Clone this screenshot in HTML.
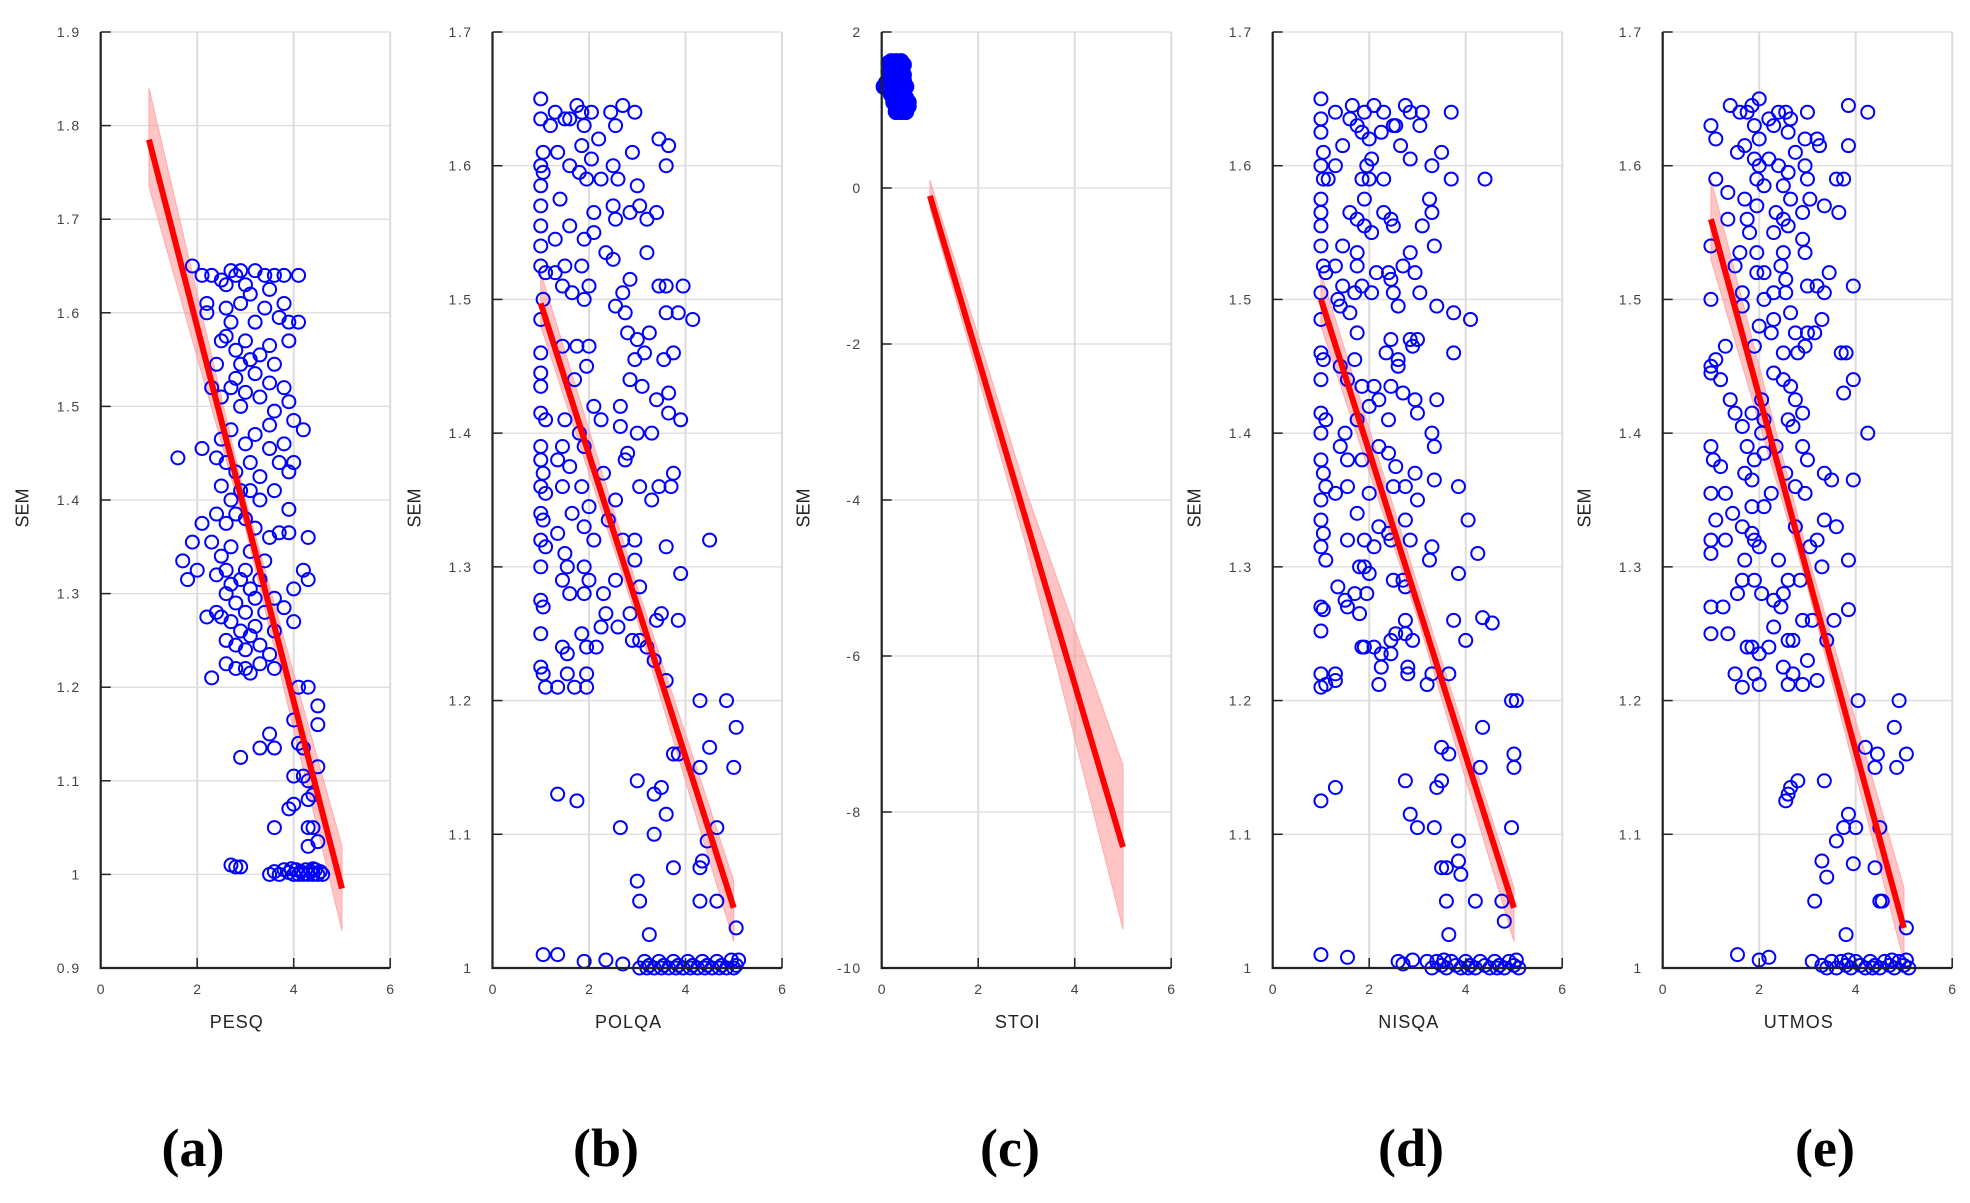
<!DOCTYPE html>
<html><head><meta charset="utf-8"><style>
html,body{margin:0;padding:0;background:#fff;}
svg{display:block;}
</style></head><body>
<svg id="chart" width="1970" height="1203" viewBox="0 0 1970 1203" xmlns="http://www.w3.org/2000/svg"></svg>
<script>
// ---- data ----
const panelNames = ["PESQ","POLQA","STOI","NISQA","UTMOS"];
const panelLetters = ["(a)","(b)","(c)","(d)","(e)"];
const yDomains = [[0.9,1.9],[1,1.7],[-10,2],[1,1.7],[1,1.7]];
const yTickLabels = [
 ["0.9","1","1.1","1.2","1.3","1.4","1.5","1.6","1.7","1.8","1.9"],
 ["1","1.1","1.2","1.3","1.4","1.5","1.6","1.7"],
 ["-10","-8","-6","-4","-2","0","2"],
 ["1","1.1","1.2","1.3","1.4","1.5","1.6","1.7"],
 ["1","1.1","1.2","1.3","1.4","1.5","1.6","1.7"]];
const xTickLabels = ["0","2","4","6"];
// regression fit endpoints [x1,y1,x2,y2]
const fitA = [1,1.785,5,0.985];
const fitB = [1,1.497,5,1.045];
const fitC = [1,-0.1,5,-8.45];
const fitD = [1,1.5,5,1.045];
const fitE = [1,1.56,5,1.03];
// confidence band [x, lower, upper]
const bandA = [[1,1.735,1.84],[3,1.37,1.40],[5,0.94,1.03]];
const bandB = [[1,1.48,1.52],[3,1.26,1.285],[5,1.02,1.065]];
const bandC = [[1,-0.25,0.1],[3,-4.6,-3.9],[5,-9.5,-7.4]];
const bandD = [[1,1.48,1.52],[3,1.262,1.287],[5,1.02,1.06]];
const bandE = [[1,1.53,1.59],[3,1.285,1.31],[5,1.005,1.06]];
// scatter points as flat x,y pairs
const ptsA = [1.9,1.65,2.1,1.64,2.3,1.64,2.5,1.635,2.7,1.645,2.8,1.64,2.9,1.645,3.0,1.63,3.2,1.645,3.4,1.64,3.6,1.64,3.8,1.64,4.1,1.64,2.6,1.63,3.5,1.625,3.1,1.62,2.2,1.61,2.6,1.605,2.9,1.61,3.4,1.605,3.8,1.61,2.2,1.6,2.7,1.59,3.2,1.59,3.7,1.595,4.1,1.59,3.9,1.59,2.6,1.575,3.0,1.57,2.5,1.57,3.5,1.565,3.9,1.57,2.8,1.56,3.3,1.555,3.1,1.55,2.9,1.545,3.6,1.545,2.4,1.545,2.8,1.53,3.2,1.535,3.5,1.525,3.8,1.52,2.3,1.52,2.7,1.52,3.0,1.515,2.5,1.51,3.3,1.51,3.9,1.505,2.9,1.5,3.6,1.495,4.0,1.485,4.2,1.475,3.5,1.48,2.7,1.475,3.2,1.47,3.8,1.46,2.5,1.465,3.0,1.46,3.5,1.455,2.1,1.455,1.6,1.445,2.4,1.445,2.6,1.44,3.1,1.44,3.7,1.44,4.0,1.44,3.9,1.43,2.8,1.43,3.3,1.425,2.5,1.415,2.9,1.41,3.1,1.41,3.6,1.41,2.7,1.4,3.3,1.4,3.9,1.39,2.4,1.385,2.8,1.385,3.0,1.38,2.1,1.375,2.6,1.375,3.2,1.37,3.7,1.365,3.5,1.36,3.9,1.365,4.3,1.36,1.9,1.355,2.3,1.355,2.7,1.35,3.1,1.345,2.5,1.34,3.4,1.335,1.7,1.335,2.0,1.325,2.6,1.325,3.0,1.325,4.2,1.325,2.4,1.32,2.9,1.315,3.3,1.315,1.8,1.315,2.7,1.31,4.3,1.315,3.1,1.305,4.0,1.305,2.6,1.3,3.2,1.295,2.8,1.29,3.6,1.295,2.4,1.28,3.0,1.28,3.4,1.28,3.8,1.285,2.2,1.275,2.5,1.275,2.7,1.27,3.2,1.265,4.0,1.27,2.9,1.26,3.1,1.255,3.6,1.26,2.6,1.25,2.8,1.245,3.3,1.245,3.0,1.24,3.5,1.235,2.6,1.225,2.8,1.22,3.0,1.22,3.3,1.225,3.6,1.22,2.3,1.21,3.1,1.215,4.1,1.2,4.3,1.2,4.5,1.18,4.5,1.16,4.0,1.165,3.5,1.15,3.3,1.135,3.6,1.135,4.1,1.14,4.2,1.135,2.9,1.125,4.5,1.115,4.0,1.105,4.2,1.105,4.3,1.1,4.4,1.085,4.0,1.075,4.3,1.08,3.9,1.07,4.3,1.05,4.4,1.05,3.6,1.05,4.3,1.03,4.5,1.035,2.7,1.01,2.8,1.008,2.9,1.008,3.6,1.003,3.7,1.0,3.8,1.005,3.9,1.002,4.0,1.0,4.05,1.005,4.1,1.0,4.15,1.003,4.2,1.0,4.25,1.005,4.3,1.0,4.35,1.003,4.4,1.0,4.45,1.005,4.5,1.0,4.55,1.003,4.6,1.0,3.5,1.0,3.95,1.006,4.4,1.006];
const ptsB = [1.0,1.65,1.0,1.635,1.05,1.61,1.0,1.6,1.05,1.595,1.0,1.585,1.0,1.57,1.0,1.555,1.0,1.54,1.0,1.525,1.1,1.52,1.05,1.5,1.0,1.485,1.0,1.46,1.0,1.445,1.0,1.435,1.0,1.415,1.1,1.41,1.0,1.39,1.0,1.38,1.05,1.37,1.0,1.36,1.1,1.355,1.0,1.34,1.05,1.335,1.0,1.32,1.1,1.315,1.0,1.3,1.0,1.275,1.05,1.27,1.0,1.25,1.0,1.225,1.05,1.22,1.1,1.21,1.3,1.64,1.5,1.635,1.75,1.645,1.85,1.64,2.05,1.64,2.45,1.64,2.7,1.645,2.95,1.64,1.2,1.63,1.6,1.635,1.9,1.63,2.55,1.63,2.2,1.62,3.45,1.62,3.65,1.615,1.35,1.61,1.85,1.615,2.9,1.61,2.05,1.605,1.6,1.6,2.5,1.6,3.6,1.6,1.8,1.595,1.95,1.59,2.25,1.59,2.6,1.59,3.0,1.585,1.4,1.575,2.5,1.57,3.05,1.57,3.4,1.565,2.1,1.565,2.85,1.565,2.55,1.56,3.2,1.56,1.6,1.555,1.3,1.545,1.9,1.545,2.1,1.55,1.5,1.525,2.35,1.535,2.5,1.53,3.2,1.535,1.85,1.525,1.3,1.52,1.45,1.51,2.0,1.51,2.85,1.515,1.65,1.505,1.9,1.5,2.7,1.505,3.45,1.51,3.6,1.51,3.95,1.51,2.55,1.495,2.75,1.49,3.6,1.49,3.85,1.49,4.15,1.485,2.8,1.475,3.0,1.47,3.25,1.475,1.45,1.465,1.75,1.465,2.0,1.465,3.15,1.46,2.95,1.455,3.55,1.455,3.75,1.46,1.95,1.45,1.7,1.44,2.85,1.44,3.1,1.435,2.1,1.42,2.65,1.42,3.4,1.425,3.65,1.43,1.5,1.41,2.25,1.41,3.65,1.415,3.9,1.41,1.8,1.4,2.65,1.405,3.0,1.4,3.3,1.4,1.45,1.39,1.9,1.39,2.8,1.385,1.35,1.38,1.6,1.375,2.3,1.37,2.75,1.38,3.75,1.37,1.45,1.36,1.85,1.36,3.05,1.36,3.45,1.36,3.7,1.36,2.0,1.345,2.55,1.35,3.3,1.35,1.65,1.34,1.9,1.33,2.4,1.335,1.35,1.325,2.1,1.32,2.7,1.32,2.95,1.32,3.6,1.315,1.5,1.31,2.95,1.305,4.5,1.32,1.55,1.3,1.9,1.3,2.0,1.29,2.55,1.29,3.9,1.295,1.45,1.29,1.6,1.28,1.9,1.28,2.3,1.28,3.05,1.285,2.35,1.265,2.85,1.265,3.5,1.265,3.4,1.26,3.85,1.26,2.6,1.255,2.25,1.255,1.85,1.25,2.9,1.245,3.05,1.245,2.15,1.24,1.95,1.24,1.45,1.24,1.55,1.235,3.2,1.24,3.35,1.23,1.55,1.22,1.95,1.22,1.35,1.21,1.7,1.21,1.95,1.21,3.6,1.215,4.3,1.2,4.85,1.2,5.05,1.18,3.75,1.16,4.5,1.165,3.85,1.16,4.3,1.15,5.0,1.15,3.0,1.14,3.5,1.135,1.35,1.13,3.35,1.13,1.75,1.125,3.6,1.115,2.65,1.105,3.35,1.1,4.65,1.105,4.45,1.095,4.35,1.08,4.3,1.075,3.75,1.075,3.0,1.065,3.05,1.05,4.3,1.05,4.65,1.05,5.05,1.03,3.25,1.025,1.05,1.01,1.35,1.01,1.9,1.005,2.35,1.006,2.7,1.003,3.05,1.0,3.15,1.005,3.25,1.002,3.35,1.0,3.45,1.005,3.55,1.002,3.65,1.0,3.75,1.005,3.85,1.002,3.95,1.0,4.05,1.005,4.15,1.002,4.25,1.0,4.35,1.005,4.45,1.002,4.55,1.0,4.65,1.005,4.75,1.002,4.85,1.0,4.95,1.006,5.05,1.002,3.2,1.0,3.5,1.0,3.8,1.0,4.1,1.0,4.4,1.0,4.7,1.0,5.0,1.0,5.1,1.006];
const ptsC = [0.1,1.35,0.15,1.6,0.2,1.62,0.25,1.6,0.3,1.62,0.35,1.6,0.4,1.62,0.45,1.58,0.2,1.5,0.3,1.5,0.4,1.5,0.15,1.4,0.25,1.4,0.35,1.42,0.45,1.38,0.5,1.3,0.05,1.3,0.2,1.3,0.3,1.25,0.4,1.25,0.2,1.2,0.3,1.15,0.4,1.15,0.5,1.15,0.25,1.1,0.35,1.05,0.45,1.05,0.55,1.05,0.3,0.98,0.4,0.98,0.5,0.98,0.55,1.1,0.45,1.2,0.35,1.3,0.15,1.5,0.45,1.45];
const ptsD = [1.0,1.65,1.0,1.635,1.0,1.625,1.05,1.61,1.0,1.6,1.05,1.59,1.0,1.575,1.0,1.565,1.0,1.555,1.0,1.54,1.05,1.525,1.1,1.52,1.0,1.505,1.0,1.485,1.0,1.46,1.05,1.455,1.0,1.44,1.0,1.415,1.1,1.41,1.0,1.4,1.0,1.38,1.05,1.37,1.0,1.35,1.1,1.36,1.0,1.335,1.05,1.325,1.0,1.315,1.1,1.305,1.0,1.27,1.05,1.268,1.0,1.252,1.0,1.22,1.0,1.21,1.1,1.212,1.3,1.64,1.6,1.635,1.65,1.645,1.9,1.64,2.1,1.645,2.3,1.64,2.75,1.645,2.85,1.64,3.1,1.64,3.7,1.64,1.45,1.615,1.75,1.63,1.85,1.625,2.0,1.62,2.25,1.625,2.5,1.63,2.55,1.63,2.65,1.615,3.05,1.63,3.5,1.61,1.3,1.6,1.95,1.6,2.05,1.605,2.85,1.605,3.3,1.6,1.15,1.59,1.85,1.59,2.0,1.59,2.3,1.59,3.7,1.59,4.4,1.59,1.9,1.575,3.25,1.575,3.3,1.565,1.6,1.565,1.75,1.56,2.3,1.565,2.45,1.56,1.9,1.555,2.05,1.55,2.5,1.555,3.1,1.555,1.45,1.54,1.75,1.535,2.85,1.535,3.35,1.54,1.3,1.525,1.75,1.525,2.4,1.52,2.7,1.525,2.95,1.52,1.45,1.51,1.85,1.51,2.15,1.52,2.45,1.515,1.35,1.50,1.7,1.505,2.05,1.505,2.5,1.505,3.05,1.505,3.4,1.495,3.75,1.49,4.1,1.485,1.4,1.495,1.6,1.49,2.6,1.495,1.75,1.475,2.45,1.47,2.85,1.47,3.0,1.47,2.35,1.46,2.6,1.455,2.9,1.465,3.75,1.46,1.4,1.45,1.7,1.455,2.6,1.45,1.55,1.44,1.85,1.435,2.1,1.435,2.45,1.435,2.7,1.43,2.95,1.425,3.4,1.425,2.0,1.42,3.0,1.415,2.2,1.425,2.4,1.41,1.5,1.40,1.75,1.41,3.3,1.40,1.4,1.39,2.2,1.39,2.4,1.385,3.35,1.39,1.55,1.38,1.85,1.38,2.55,1.375,2.95,1.37,3.35,1.365,3.85,1.36,1.55,1.36,2.0,1.355,2.5,1.36,2.75,1.36,3.0,1.35,1.3,1.355,1.75,1.34,2.2,1.33,2.4,1.325,2.75,1.335,4.05,1.335,1.55,1.32,1.9,1.32,2.1,1.315,2.45,1.32,2.85,1.32,3.3,1.315,3.25,1.305,4.25,1.31,1.8,1.30,1.9,1.30,2.0,1.295,3.85,1.295,2.5,1.29,2.7,1.29,2.75,1.285,1.35,1.285,1.7,1.28,1.95,1.28,1.5,1.275,1.55,1.27,1.8,1.265,2.75,1.26,2.75,1.25,3.75,1.26,4.35,1.262,4.55,1.258,2.55,1.25,2.9,1.245,2.45,1.245,1.85,1.24,1.9,1.24,4.0,1.245,2.1,1.24,2.25,1.235,2.45,1.235,2.25,1.225,2.8,1.225,1.3,1.22,2.8,1.22,3.3,1.22,3.65,1.22,1.3,1.215,2.2,1.212,3.2,1.212,4.95,1.2,5.05,1.2,4.35,1.18,3.5,1.165,3.65,1.16,5.0,1.16,4.3,1.15,5.0,1.15,2.75,1.14,3.5,1.14,3.4,1.135,1.3,1.135,1.0,1.125,2.85,1.115,3.0,1.105,3.35,1.105,4.95,1.105,3.85,1.095,3.5,1.075,3.6,1.075,3.85,1.08,3.9,1.07,3.6,1.05,4.2,1.05,4.75,1.05,4.8,1.035,3.65,1.025,1.0,1.01,1.55,1.008,2.6,1.005,2.7,1.003,2.9,1.006,3.2,1.005,3.3,1.0,3.4,1.005,3.5,1.002,3.6,1.0,3.7,1.005,3.8,1.002,3.9,1.0,4.0,1.005,4.1,1.002,4.2,1.0,4.3,1.005,4.4,1.002,4.5,1.0,4.6,1.005,4.7,1.002,4.8,1.0,4.9,1.005,5.0,1.002,5.1,1.0,3.55,1.006,4.05,1.0,4.65,1.0,5.05,1.006];
const ptsE = [1.0,1.63,1.1,1.62,1.4,1.645,1.6,1.64,1.75,1.64,1.85,1.645,2.0,1.65,1.9,1.63,2.2,1.635,2.3,1.63,2.4,1.64,2.55,1.64,2.65,1.635,3.0,1.64,3.85,1.645,4.25,1.64,1.55,1.61,1.7,1.615,2.0,1.62,2.6,1.625,2.75,1.61,2.95,1.62,3.2,1.62,3.25,1.615,3.85,1.615,1.9,1.605,2.0,1.60,2.2,1.605,2.4,1.60,2.6,1.595,2.95,1.60,1.95,1.59,2.1,1.585,2.5,1.585,3.0,1.59,3.6,1.59,3.75,1.59,1.1,1.59,1.35,1.58,1.7,1.575,1.95,1.57,2.65,1.575,3.05,1.575,3.35,1.57,3.65,1.565,2.9,1.565,2.35,1.565,2.5,1.56,1.35,1.56,1.75,1.56,1.8,1.55,2.3,1.55,2.6,1.555,2.9,1.545,1.0,1.54,1.6,1.535,1.95,1.535,2.5,1.535,2.95,1.535,1.5,1.525,1.95,1.52,2.1,1.52,2.45,1.525,2.55,1.515,3.0,1.51,3.2,1.51,3.45,1.52,2.3,1.505,2.55,1.505,3.35,1.505,3.95,1.51,1.0,1.50,1.65,1.505,2.1,1.50,2.65,1.49,1.65,1.495,2.0,1.48,2.3,1.485,3.3,1.485,1.9,1.465,2.25,1.475,2.75,1.475,3.0,1.475,3.15,1.475,1.3,1.465,1.1,1.455,2.5,1.46,2.8,1.46,2.95,1.465,3.7,1.46,3.8,1.46,1.0,1.45,1.2,1.44,2.3,1.445,2.5,1.44,2.65,1.435,1.0,1.445,3.95,1.44,1.4,1.425,2.05,1.425,2.75,1.425,3.75,1.43,1.5,1.415,1.85,1.415,2.1,1.41,2.6,1.41,2.9,1.415,1.65,1.405,2.05,1.40,2.7,1.405,4.25,1.40,1.0,1.39,1.75,1.39,2.35,1.39,2.9,1.39,1.05,1.38,1.2,1.375,1.9,1.38,2.1,1.385,3.0,1.38,1.7,1.37,1.85,1.365,2.55,1.37,3.35,1.37,3.5,1.365,3.95,1.365,1.0,1.355,1.3,1.355,2.25,1.355,2.75,1.36,2.95,1.355,1.45,1.34,1.85,1.345,2.1,1.345,1.1,1.335,3.35,1.335,3.6,1.33,1.65,1.33,1.85,1.325,2.75,1.33,1.0,1.32,1.3,1.32,1.9,1.32,2.0,1.315,3.2,1.32,3.05,1.315,1.0,1.31,1.7,1.305,2.4,1.305,3.3,1.30,3.85,1.305,1.9,1.29,2.6,1.29,2.85,1.29,1.65,1.29,2.05,1.28,1.55,1.28,2.5,1.28,2.3,1.275,2.45,1.27,1.0,1.27,1.25,1.27,3.85,1.268,2.9,1.26,3.1,1.26,3.55,1.26,1.0,1.25,1.35,1.25,2.3,1.255,2.6,1.245,2.7,1.245,3.4,1.245,1.75,1.24,1.85,1.24,2.0,1.235,2.2,1.24,3.0,1.23,2.5,1.225,2.7,1.22,1.5,1.22,1.9,1.22,3.2,1.215,1.65,1.21,2.0,1.212,2.6,1.212,2.9,1.212,4.05,1.2,4.9,1.2,4.8,1.18,4.2,1.165,5.05,1.16,4.45,1.16,4.4,1.15,4.85,1.15,2.8,1.14,3.35,1.14,2.65,1.135,2.6,1.13,2.55,1.125,3.85,1.115,3.75,1.105,4.0,1.105,4.5,1.105,3.6,1.095,3.3,1.08,3.95,1.078,4.4,1.075,3.4,1.068,4.5,1.05,4.55,1.05,3.15,1.05,5.05,1.03,3.8,1.025,1.55,1.01,2.0,1.006,2.2,1.008,3.1,1.005,3.3,1.002,3.4,1.0,3.5,1.005,3.6,1.0,3.7,1.005,3.8,1.002,3.9,1.0,4.0,1.005,4.1,1.002,4.2,1.0,4.3,1.005,4.4,1.002,4.5,1.0,4.6,1.005,4.7,1.002,4.8,1.0,4.9,1.005,5.0,1.002,5.1,1.0,3.85,1.006,4.35,1.0,4.75,1.006,5.05,1.006];

const fits = [fitA,fitB,fitC,fitD,fitE];
const bands = [bandA,bandB,bandC,bandD,bandE];
const pts = [ptsA,ptsB,ptsC,ptsD,ptsE];
const panelKeys = ["pesq","polqa","stoi","nisqa","utmos"];

// ---- layout ----
const NS = "http://www.w3.org/2000/svg";
const svg = document.getElementById("chart");
const plotLefts = [100.7,492.5,881.7,1272.7,1662.7];
const plotW = 289.5, plotTop = 32, plotBottom = 968;
const letterX = [193,606,1010,1411,1825];
function mk(tag, attrs, parent){
  const e = document.createElementNS(NS, tag);
  for (const k in attrs) e.setAttribute(k, attrs[k]);
  (parent||svg).appendChild(e);
  return e;
}
for (let p=0;p<5;p++){
  const L = plotLefts[p], R = L+plotW;
  const [y0,y1] = yDomains[p];
  const sx = v => L + (v-0)/6*plotW;
  const sy = v => plotBottom - (v-y0)/(y1-y0)*(plotBottom-plotTop);
  const g = mk("g",{});
  
  
  const grid = mk("g",{},g);
  
  
  const yt = yTickLabels[p];
  for (let i=0;i<yt.length;i++){
    const v = parseFloat(yt[i]);
    mk("line",{x1:L,x2:R,y1:sy(v),y2:sy(v),stroke:"#dcdcdc","stroke-width":1.3},grid);
  }
  for (let i=0;i<xTickLabels.length;i++){
    const v = parseFloat(xTickLabels[i]);
    mk("line",{x1:sx(v),x2:sx(v),y1:plotTop,y2:plotBottom,stroke:"#dcdcdc","stroke-width":2},grid);
  }
  const b = bands[p];
  let d = "";
  b.forEach((r,i)=>{ d += (i?"L":"M")+sx(r[0])+","+sy(r[2]); });
  for (let i=b.length-1;i>=0;i--) d += "L"+sx(b[i][0])+","+sy(b[i][1]);
  const band = mk("path",{d:d+"Z",fill:"#ff8a8a","fill-opacity":0.5,stroke:"#ffaaaa","stroke-width":1},g);
  
  
  const sg = mk("g",{},g);
  
  
  const P = pts[p];
  for (let i=0;i<P.length;i+=2){
    const c = mk("ellipse",{cx:sx(P[i]),cy:sy(P[i+1]),rx:p===2?7.5:6.5,ry:p===2?7.5:6.5,fill:p===2?"#0000ff":"none",stroke:"#0000ff","stroke-width":2},sg);
    
    
  }
  const f = fits[p];
  const fl = mk("line",{x1:sx(f[0]),y1:sy(f[1]),x2:sx(f[2]),y2:sy(f[3]),stroke:"#ff0000","stroke-width":6},g);
  
  
  const ax = mk("path",{d:`M${L},${plotTop}V${plotBottom}H${R}`,fill:"none",stroke:"#222","stroke-width":2.2},g);
  
  
  for (let i=0;i<yt.length;i++){
    const v = parseFloat(yt[i]);
    mk("line",{x1:L,x2:L+10,y1:sy(v),y2:sy(v),stroke:"#222","stroke-width":1.5},g);
    const t = mk("text",{x:L-20,y:sy(v)+5,"text-anchor":"end","font-family":"Liberation Sans, sans-serif","font-size":14,fill:"#444","letter-spacing":"1.5"},g);
    t.textContent = yt[i];
    
    
  }
  for (let i=0;i<xTickLabels.length;i++){
    const v = parseFloat(xTickLabels[i]);
    mk("line",{x1:sx(v),x2:sx(v),y1:plotBottom,y2:plotBottom-10,stroke:"#222","stroke-width":1.5},g);
    const t = mk("text",{x:sx(v),y:994,"text-anchor":"middle","font-family":"Liberation Sans, sans-serif","font-size":14,fill:"#444"},g);
    t.textContent = xTickLabels[i];
    
    
  }
  const xl = mk("text",{x:L+plotW*0.47,y:1028,"text-anchor":"middle","font-family":"Liberation Sans, sans-serif","font-size":18,fill:"#222","letter-spacing":"1"},g);
  xl.textContent = panelNames[p];
  
  
  const yx = L-72, yy = 508;
  const yl = mk("text",{x:yx,y:yy,"text-anchor":"middle","font-family":"Liberation Sans, sans-serif","font-size":18,fill:"#222",transform:`rotate(-90 ${yx} ${yy})`},g);
  yl.textContent = "SEM";
  
  
  const lt = mk("text",{x:letterX[p],y:1166,"text-anchor":"middle","font-family":"Liberation Serif, serif","font-size":54,"font-weight":"bold",fill:"#000"},g);
  lt.textContent = panelLetters[p];
  
  
}
</script>
</body></html>
